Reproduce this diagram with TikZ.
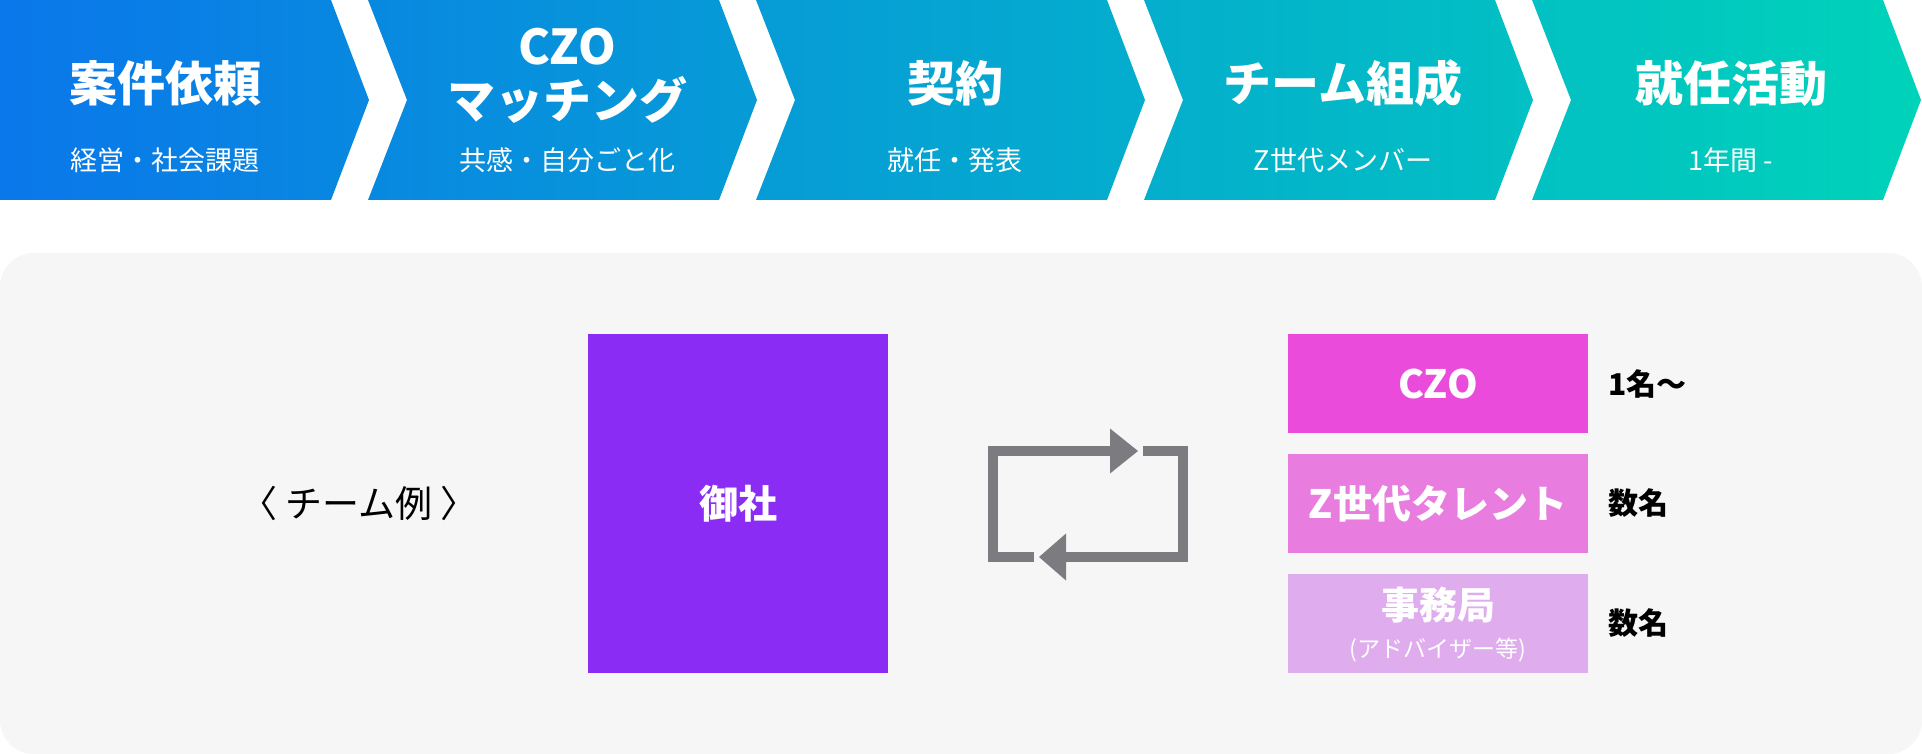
\documentclass[tikz,border=0pt]{standalone}
\usepackage{fontspec}
\setmainfont{Noto Sans CJK JP}
\usetikzlibrary{positioning}
\newcommand{\fsz}[2]{\fontsize{#1}{#2}\selectfont}
\definecolor{chevL}{HTML}{0A77EA}
\definecolor{chevR}{HTML}{00D3B9}
\definecolor{panel}{HTML}{F6F6F6}
\definecolor{onsha}{HTML}{8A2CF3}
\definecolor{roleA}{HTML}{EB4BDB}
\definecolor{roleB}{HTML}{E87DDF}
\definecolor{roleC}{HTML}{DFADEE}
\definecolor{cycgray}{HTML}{7C7B80}
\tikzset{
 steptitle/.style={text=white, font=\fsz{48}{54}\bfseries, align=center},
 stepsub/.style={text=white, font=\fsz{27}{30}},
 rolebox/.style={minimum width=300, minimum height=99, inner sep=0pt, text=white, font=\fsz{39}{44}\bfseries},
 count/.style={anchor=west, inner sep=0pt, font=\fsz{30}{34}\bfseries},
 cycline/.style={draw=cycgray, line width=10, line join=miter},
}
\begin{document}
\begin{tikzpicture}[x=1pt, y=-1pt, line join=round]
 \fill[white] (0,0) rectangle (1922,754);
 \useasboundingbox (0,0) rectangle (1922,754);
 % steps
 \begin{scope}
 \clip (0,0) -- (331,0) -- (369,100) -- (331,200) -- (0,200) -- cycle
 foreach \k in {0,...,3} {({368+\k*388},0) -- ({719+\k*388},0) -- ({757+\k*388},100) -- ({719+\k*388},200) -- ({368+\k*388},200) -- ({407+\k*388},100) -- cycle};
 \shade[left color=chevL, right color=chevR] (0,0) rectangle (1922,200);
 \end{scope}
 \foreach \cx/\ty/\ttl/\sub in {165/83/案件依頼/経営・社会課題, 567/76/{CZO\\マッチング}/共感・自分ごと化, 955/83/契約/就任・発表, 1343/83/チーム組成/Z世代メンバー, 1731/83/就任活動/1年間 -}{
 \node[steptitle] (ttl\cx) at (\cx,\ty) {\ttl};
 \node[stepsub] (sub\cx) at (\cx,160) {\sub};
 }
 % team
 \fill[panel, rounded corners=34] (0,253) rectangle (1922,754);
 \node[font=\fsz{37}{40}] (rei) at (359,503) {〈 チーム例 〉};
 \node[fill=onsha, minimum width=300, minimum height=339, inner sep=0pt, text=white, font=\fsz{39}{44}\bfseries] (onsha) at (738,503.5) {御社};
 \node[rolebox, fill=roleA] (czo) at (1438,383.5) {CZO};
 \node[rolebox, fill=roleB] (zgen) at (1438,503.5) {Z世代タレント};
 \node[rolebox, fill=roleC] (jimu) at (1438,623.5) {};
 \node[text=white, font=\fsz{38}{42}\bfseries] (jimuA) at (1438,605) {事務局};
 \node[text=white, font=\fsz{23}{26}] (jimuB) at (1438,650) {(アドバイザー等)};
 \node[count, right=20 of czo] (n1) {1名〜};
 \node[count, right=20 of zgen] (n2) {数名};
 \node[count, right=20 of jimu] (n3) {数名};
 % cycle icon
 \draw[cycline] (1143,451) -- (1183,451) -- (1183,557) -- (1062,557);
 \fill[cycgray] (1066,533.5) -- (1039,557) -- (1066,580.5) -- cycle;
 \draw[cycline] (1034,557) -- (993,557) -- (993,451) -- (1114,451);
 \fill[cycgray] (1110,428.5) -- (1138,451) -- (1110,473.5) -- cycle;
\end{tikzpicture}
\end{document}
